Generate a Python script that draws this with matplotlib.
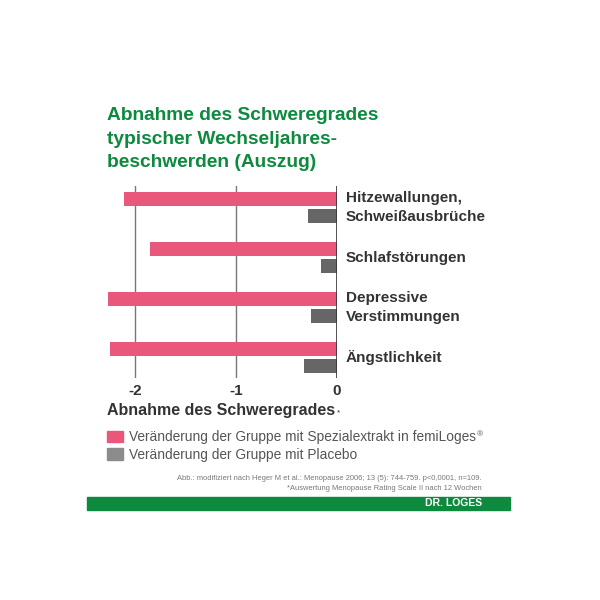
import matplotlib
matplotlib.use("Agg")
import matplotlib.pyplot as plt
import numpy as np

plt.rcParams['font.family'] = ['Liberation Sans', 'DejaVu Sans']

# Werte (Abnahme des Schweregrades)
kategorien = ["Hitzewallungen,\nSchweißausbrüche", "Schlafstörungen",
              "Depressive\nVerstimmungen", "Ängstlichkeit"]
femiloges = [-2.11, -1.85, -2.26, -2.24]
placebo = [-0.28, -0.16, -0.25, -0.32]
ticks = [-2, -1, 0]

gruen = '#0d8a3e'
pink = '#e9577a'
grau = '#666666'
text_grau = '#333333'

fig = plt.figure(figsize=(6, 6), dpi=100)
ax = fig.add_axes([104.4 / 600, 1 - 378 / 600, 232.3 / 600, 192 / 600])

y = np.arange(len(kategorien))
ax.barh(y - 0.17, femiloges, height=0.28, color=pink, zorder=2)
ax.barh(y + 0.17, placebo, height=0.28, color=grau, zorder=2)

ax.set_xlim(-2.3, 0)
ax.set_ylim(3.41, -0.43)
ax.set_yticks([])
ax.set_xticks(ticks)
ax.set_xticklabels([str(t) for t in ticks], fontsize=11, fontweight='bold', color=text_grau)
ax.tick_params(axis='x', length=0, pad=4)
for s in ax.spines.values():
    s.set_visible(False)
for t in ticks[:-1]:
    ax.axvline(t, color='#777777', lw=1, zorder=1)
ax.axvline(0, color='#333333', lw=1.2, zorder=3)

for i, k in enumerate(kategorien):
    ax.text(0.09, i, k, ha='left', va='center', fontsize=11, fontweight='bold',
            color=text_grau, linespacing=1.4, clip_on=False)

# Titel
fig.text(107 / 600, 1 - 107 / 600,
         "Abnahme des Schweregrades\ntypischer Wechseljahres-\nbeschwerden (Auszug)",
         ha='left', va='top', fontsize=13.8, fontweight='bold', color=gruen, linespacing=1.5)

# Achsenbeschriftung
xl = fig.text(107 / 600, 1 - 411 / 600, "Abnahme des Schweregrades", ha='left', va='center',
              fontsize=11.5, fontweight='bold', color=text_grau)
ax.annotate("*", xy=(1, 1), xycoords=xl, xytext=(1, -4), textcoords='offset points',
            ha='left', va='top', fontsize=6, color=text_grau)

# Legende
fig.patches.append(plt.Rectangle((107 / 600, 1 - 442 / 600), 16 / 600, 11 / 600,
                                 transform=fig.transFigure, color=pink))
fig.patches.append(plt.Rectangle((107 / 600, 1 - 460 / 600), 16 / 600, 12 / 600,
                                 transform=fig.transFigure, color='#8c8c8c'))
l1 = fig.text(129 / 600, 1 - 437 / 600, "Veränderung der Gruppe mit Spezialextrakt in femiLoges",
              ha='left', va='center', fontsize=9.9, color='#555555')
ax.annotate("®", xy=(1, 1), xycoords=l1, xytext=(0.5, -1), textcoords='offset points',
            ha='left', va='top', fontsize=6, color='#555555')
fig.text(129 / 600, 1 - 455 / 600, "Veränderung der Gruppe mit Placebo",
         ha='left', va='center', fontsize=9.9, color='#555555')

# Quellen
fig.text(482 / 600, 1 - 478 / 600,
         "Abb.: modifiziert nach Heger M et al.: Menopause 2006; 13 (5): 744-759. p<0,0001, n=109.",
         ha='right', va='center', fontsize=5.4, color='#777777')
fig.text(482 / 600, 1 - 489 / 600, "*Auswertung Menopause Rating Scale II nach 12 Wochen",
         ha='right', va='center', fontsize=5.4, color='#777777')

# Grüner Balken
fig.patches.append(plt.Rectangle((87 / 600, 1 - 510 / 600), 423 / 600, 13 / 600,
                                 transform=fig.transFigure, color=gruen))
fig.text(482 / 600, 1 - 503.5 / 600, "DR. LOGES", ha='right', va='center',
         fontsize=7.5, fontweight='bold', color='white')

fig.savefig("out.png", dpi=100, facecolor='white')
